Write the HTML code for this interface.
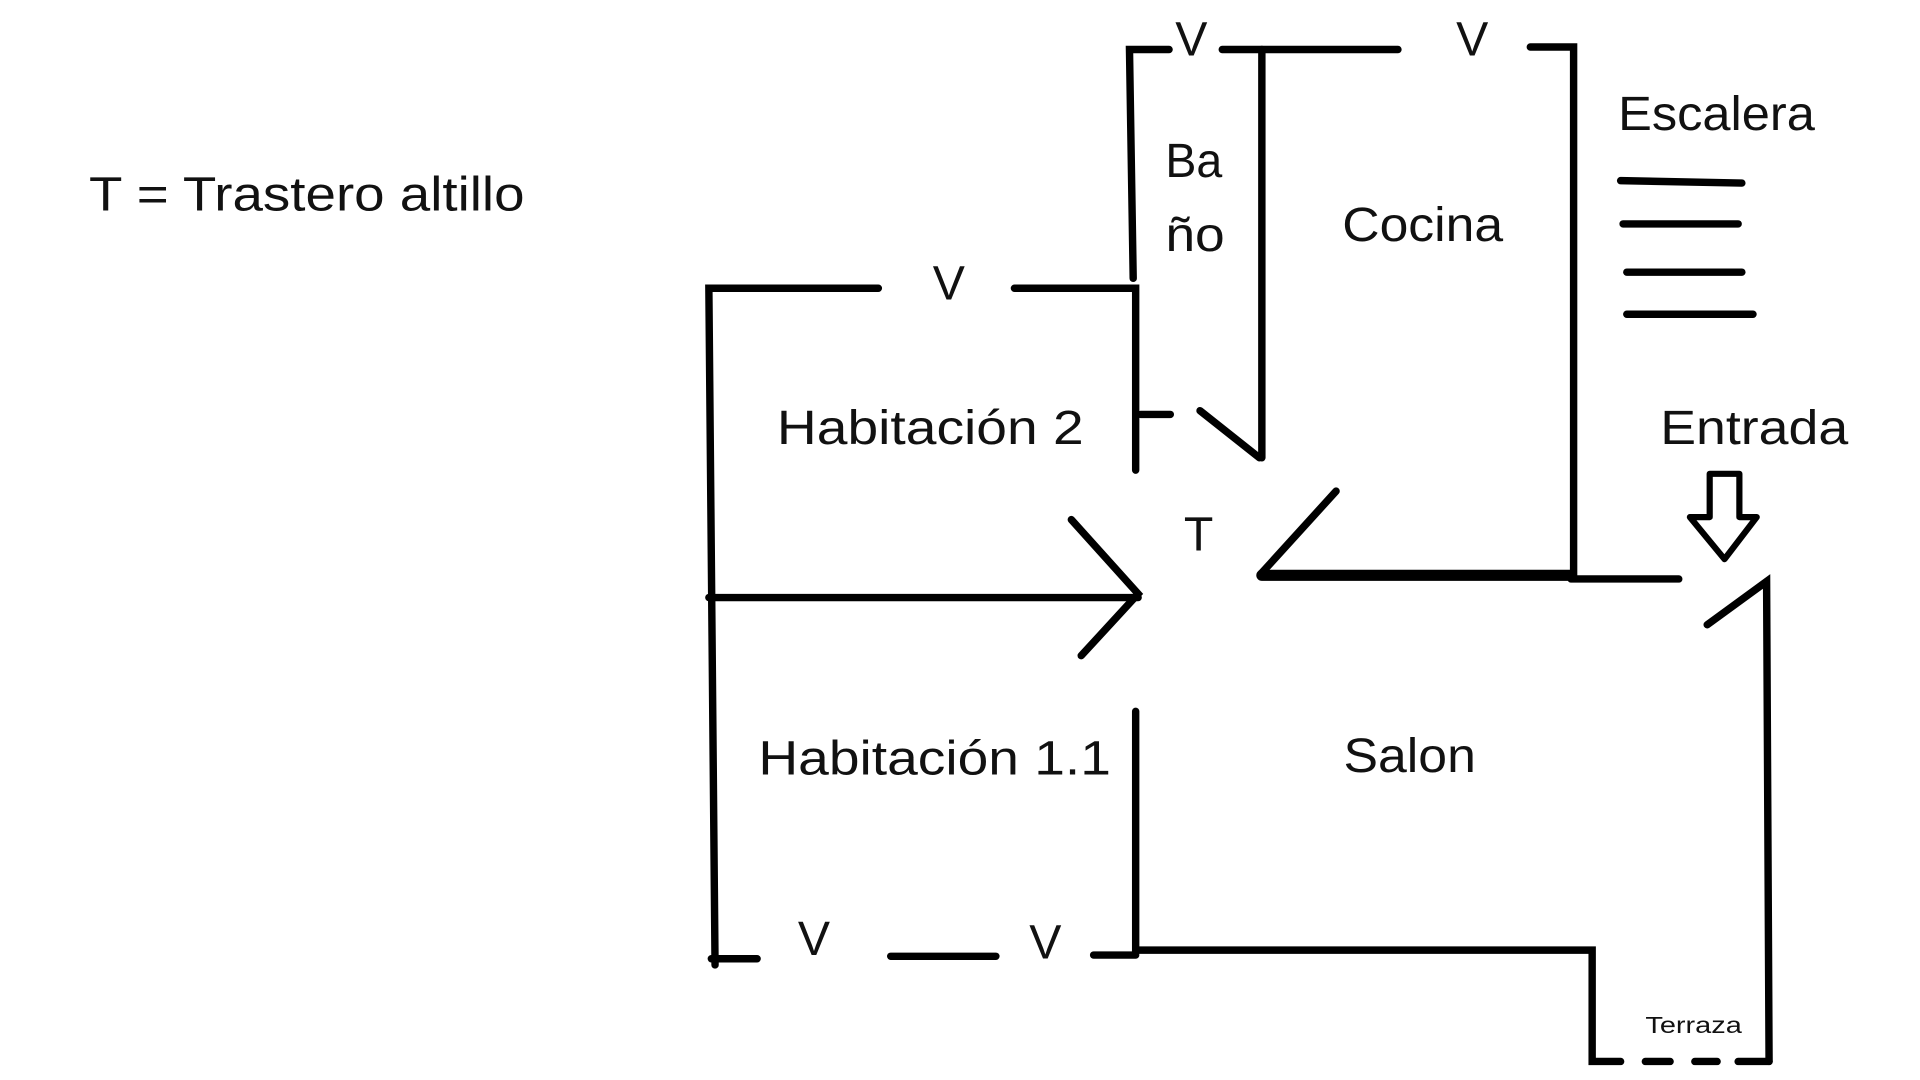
<!DOCTYPE html>
<html><head><meta charset="utf-8"><style>
html,body{margin:0;padding:0;background:#fff;width:1920px;height:1080px;overflow:hidden}
svg{display:block}
text{font-family:"Liberation Sans",sans-serif;fill:#111}
</style></head><body>
<svg width="1920" height="1080" viewBox="0 0 1552 873" preserveAspectRatio="none">
<g stroke="#000" stroke-width="6" fill="none" stroke-linecap="round">
<path d="M945 40 L913 40 L916 225"/>
<path d="M988 40 L1130 40"/>
<path d="M1237 38 L1272 38 L1272 465"/>
<path d="M1020 40 L1020 370"/>
<path d="M710 233 L573 233 L578 780"/>
<path d="M820 233 L918 233 L918 380"/>
<path d="M922 335 L946 335"/>
<path d="M970 332 L1018 370"/>
<path d="M573 483 L920 483"/>
<path d="M866 420 L920 480 L874 530"/>
<path d="M1020 463 L1080 397"/>
<path d="M1020 465 L1270 465" stroke-width="9"/>
<path d="M1270 468 L1357 468"/>
<path d="M1380 505 L1428 470 L1430 858"/>
<path d="M918 575 L918 770"/>
<path d="M575 775 L612 775"/>
<path d="M720 773 L805 773"/>
<path d="M884 772 L918 772"/>
<path d="M918 768 L1287 768 L1287 858 L1310 858"/>
<path d="M1330 858 L1350 858 M1370 858 L1388 858 M1405 858 L1430 858"/>
<path d="M1310 146 L1408 148"/>
<path d="M1312 181 L1405 181"/>
<path d="M1315 220 L1408 220"/>
<path d="M1315 254 L1417 254"/>
<path d="M1382 383 L1406 383 L1406 418 L1420 418 L1394 452 L1366 418 L1382 418 Z" stroke-width="5" stroke-linejoin="round"/>
</g>
<g font-size="39">
<text x="72" y="170" textLength="352" lengthAdjust="spacingAndGlyphs">T = Trastero altillo</text>
<text x="1308" y="105" textLength="159" lengthAdjust="spacingAndGlyphs">Escalera</text>
<text x="942" y="143" textLength="46" lengthAdjust="spacingAndGlyphs">Ba</text>
<text x="942" y="203" textLength="48" lengthAdjust="spacingAndGlyphs">ño</text>
<text x="1085" y="195" textLength="130" lengthAdjust="spacingAndGlyphs">Cocina</text>
<text x="628" y="359" textLength="248" lengthAdjust="spacingAndGlyphs">Habitación 2</text>
<text x="957" y="445">T</text>
<text x="1342" y="359" textLength="152" lengthAdjust="spacingAndGlyphs">Entrada</text>
<text x="1086" y="624" textLength="107" lengthAdjust="spacingAndGlyphs">Salon</text>
<text x="613" y="626" textLength="285" lengthAdjust="spacingAndGlyphs">Habitación 1.1</text>
<text x="950" y="45">V</text>
<text x="1177" y="45">V</text>
<text x="754" y="242">V</text>
<text x="645" y="772">V</text>
<text x="832" y="775">V</text>
</g>
<text x="1330" y="835" font-size="19" textLength="78" lengthAdjust="spacingAndGlyphs">Terraza</text>
</svg>
</body></html>
